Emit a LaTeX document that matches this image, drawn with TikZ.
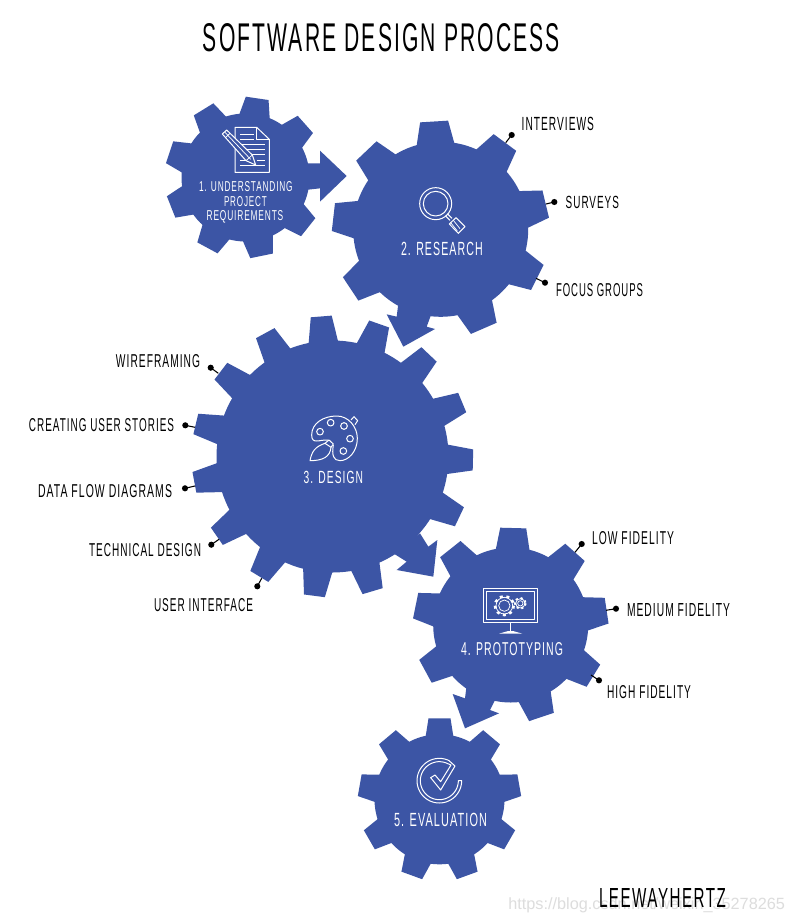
\documentclass[tikz,border=0pt]{standalone}
\usepackage{fontspec}
\usepackage{graphicx}
\setmainfont{Liberation Sans}
\newfontfamily\lsfont[LetterSpace=10]{Liberation Sans}
\definecolor{gearblue}{HTML}{3C55A5}
\definecolor{marklight}{HTML}{DDDDDD}
\tikzset{
  lab/.style={inner sep=0pt,outer sep=0pt,font=\lsfont},
  gearfill/.style={fill=gearblue,draw=none},
  icon/.style={draw=white,line width=.75pt,line join=round},
  thinicon/.style={draw=white,line width=.55pt,line join=round},
  leader/.style={draw=black,line width=.8pt},
  dotend/.style={circle,fill=black,inner sep=0pt,minimum size=4.6pt}
}
% name, x1, x2, y1, y2, colour, text
\newcommand\lbl[7]{%
  \pgfmathsetlengthmacro\lblw{(#3-#2)*0.75}%
  \pgfmathsetlengthmacro\lblh{(#5-#4)*0.75}%
  \node[lab,text=#6] (#1) at ({(#2+#3)/2},{(#4+#5)/2}) {\resizebox{\lblw}{\lblh}{\raisebox{0pt}[\height][0pt]{#7}}};%
}
% cx, cy, r, R, n, phase, tip width, base width, index of the tooth an arrow replaces
\newcommand\gear[9]{%
  \fill[gearfill] (#1,#2) circle (#3);
  \foreach \i in {1,...,#5}{%
    \ifnum\i=#9\relax\else
    \pgfmathsetmacro\a{#6+360*\i/#5}%
    \fill[gearfill]
      ({#1+(#3-3)*cos(\a)-(#8/2)*sin(\a)},{#2-(#3-3)*sin(\a)-(#8/2)*cos(\a)}) --
      ({#1+(#4)*cos(\a)-(#7/2)*sin(\a)},{#2-(#4)*sin(\a)-(#7/2)*cos(\a)}) --
      ({#1+(#4)*cos(\a)+(#7/2)*sin(\a)},{#2-(#4)*sin(\a)+(#7/2)*cos(\a)}) --
      ({#1+(#3-3)*cos(\a)+(#8/2)*sin(\a)},{#2-(#3-3)*sin(\a)+(#8/2)*cos(\a)}) -- cycle;
    \fi
  }%
}
% name, dot x, dot y, end x, end y
\newcommand\lead[5]{%
  \node[dotend] (#1) at (#2,#3) {};
  \coordinate (#1e) at (#4,#5);
  \draw[leader] (#1.center) -- (#1e);
}
\begin{document}
\begin{tikzpicture}[x=.75pt,y=-.75pt]
\useasboundingbox (0,0) rectangle (789,924);
\fill[white] (0,0) rectangle (789,924);

% gears
\gear{245.5}{177.5}{64}{80}{9}{1.6}{23}{31}{9}
\gear{440.7}{229.3}{87.5}{108}{9}{13.5}{28}{38}{6}
\gear{332.5}{456.5}{116}{140.5}{15}{-1.4}{21}{30}{13}
\gear{510.7}{625}{77.5}{97}{9}{8.5}{26}{34}{6}
\gear{439.5}{799.3}{65}{81}{9}{10}{22}{28}{0}

% arrows
\begin{scope}[shift={(150,80)},x=.25pt,y=-.25pt]
  \fill[gearfill] (470,250) -- (510,250) -- (510,212) -- (590,288) -- (510,365) -- (510,325) -- (465,330) -- cycle;
\end{scope}
\begin{scope}[shift={(330,100)},x=.25pt,y=-.25pt]
  \fill[gearfill] (205,610) -- (200,650) -- (170,643) -- (220,740) -- (315,687) -- (290,680) -- (303,645) -- cycle;
\end{scope}
\begin{scope}[shift={(180,310)},x=.25pt,y=-.25pt]
  \fill[gearfill] (720,670) -- (745,710) -- (772,690) -- (760,800) -- (650,780) -- (680,755) -- (640,730) -- cycle;
\end{scope}
\begin{scope}[shift={(400,520)},x=.25pt,y=-.25pt]
  \fill[gearfill] (200,495) -- (195,535) -- (158,522) -- (195,625) -- (297,580) -- (270,570) -- (285,540) -- cycle;
\end{scope}

% icon 1: document and pencil
\begin{scope}[shift={(150,80)},x=.25pt,y=-.25pt]
  \draw[icon] (255,142) -- (320,142) -- (358,178) -- (358,277) -- (255,277) -- cycle;
  \draw[icon] (320,142) -- (320,178) -- (358,178);
  \draw[thinicon] (270,163) -- (312,163) (270,178) -- (312,178) (275,193) -- (345,193)
     (290,208) -- (345,208) (300,223) -- (345,223) (270,240) -- (295,240) (320,240) -- (345,240)
     (270,255) -- (345,255);
  \fill[gearfill] (217,162) -- (230,150) -- (307,225) -- (317,255) -- (288,242) -- cycle;
  \draw[icon] (217,162) -- (230,150) -- (307,225) -- (317,255) -- (288,242) -- cycle;
  \draw[thinicon] (227,172) -- (240,160) (224,156) -- (302,238) (288,242) -- (307,225);
\end{scope}

% icon 2: magnifier
\begin{scope}[shift={(330,100)},x=.25pt,y=-.25pt]
  \draw[icon] (317,311) circle (48);
  \draw[icon] (317,311) circle (37);
  \draw[icon] (346,347) -- (360,361) (352,341) -- (366,355);
  \draw[icon] (378,353) -- (405,380) -- (385,400) -- (358,372) -- cycle;
  \draw[thinicon] (370,361) -- (390,386) (362,368) -- (382,393);
\end{scope}

% icon 3: palette and brush
\begin{scope}[shift={(270,390)},x=.25pt,y=-.25pt]
  \draw[icon] (175,150) .. controls (150,148) and (125,165) .. (125,135)
     .. controls (125,100) and (160,78) .. (200,78)
     .. controls (235,78) and (262,110) .. (262,145)
     .. controls (262,185) and (235,212) .. (210,212)
     .. controls (190,212) and (185,195) .. (190,165);
  \draw[icon] (243,90) -- (252,80) -- (263,92) -- (255,104);
  \draw[icon] (182,98) circle (10) (222,108) circle (10) (150,125) circle (10) (240,146) circle (10) (220,183) circle (10);
  \draw[icon] (120,212) .. controls (125,185) and (135,170) .. (165,160)
     .. controls (172,165) and (178,168) .. (183,172)
     .. controls (180,200) and (160,212) .. (120,212) -- cycle;
  \draw[icon] (165,160) -- (177,150) -- (190,162) -- (183,172);
\end{scope}

% icon 4: monitor with gears
\begin{scope}[shift={(400,520)},x=.25pt,y=-.25pt]
  \draw[icon] (250,205) rectangle (412,308);
  \draw[icon] (260,215) rectangle (402,298);
  \draw[icon] (332,308) -- (332,334);
  \fill[white] (297,341) -- (325,333) -- (339,333) -- (367,341) -- cycle;
  \draw[thinicon] (313,257) circle (25) (313,257) circle (17);
  \draw[thinicon,line width=2pt,dash pattern=on 2.2pt off 2.7pt] (313,257) circle (28);
  \draw[thinicon] (361,250) circle (14) (361,250) circle (8);
  \draw[thinicon,line width=1.6pt,dash pattern=on 1.7pt off 2pt] (361,250) circle (16);
\end{scope}

% icon 5: check mark
\begin{scope}[shift={(350,710)},x=.25pt,y=-.25pt]
  \draw[icon] (335,212) -- plot[domain=0:-295,samples=50] ({268+67*cos(\x)},{212-67*sin(\x)}) -- (315,168)
     -- (272,240) -- (242,203) -- (255,195) -- (272,215) -- (303,165)
     -- plot[domain=65:360,samples=50] ({268+57*cos(\x)},{212-57*sin(\x)}) -- cycle;
\end{scope}

% title and labels
\node[inner sep=0pt,text=marklight,font=\fontsize{12.2pt}{14pt}\selectfont,anchor=west] (mark) at (508,905) {https://blog.csdn.net/weixin\_35278265};
\lbl{title}{203}{560}{24}{52}{black}{SOFTWARE DESIGN PROCESS}
\lbl{l1a}{199}{292.7}{181.7}{191.7}{white}{1. UNDERSTANDING}
\lbl{l1b}{224}{266.7}{196}{206}{white}{PROJECT}
\lbl{l1c}{206.7}{283.3}{210.7}{220.7}{white}{REQUIREMENTS}
\lbl{l2}{401}{482.7}{241.7}{255}{white}{2. RESEARCH}
\lbl{l3}{303.7}{363}{471}{483.3}{white}{3. DESIGN}
\lbl{l4}{461}{563}{642}{655}{white}{4. PROTOTYPING}
\lbl{l5}{394}{487}{812.7}{826}{white}{5. EVALUATION}
\lbl{interviews}{521.7}{594}{116.7}{130}{black}{INTERVIEWS}
\lbl{surveys}{565.7}{619}{195.7}{208}{black}{SURVEYS}
\lbl{focus}{556}{643}{283}{296}{black}{FOCUS GROUPS}
\lbl{wire}{116}{200}{354}{367}{black}{WIREFRAMING}
\lbl{stories}{29}{174}{418}{431}{black}{CREATING USER STORIES}
\lbl{flow}{38}{172}{484}{497}{black}{DATA FLOW DIAGRAMS}
\lbl{tech}{89}{201}{543}{556}{black}{TECHNICAL DESIGN}
\lbl{ui}{154}{253}{598}{611}{black}{USER INTERFACE}
\lbl{low}{592}{674}{531}{544}{black}{LOW FIDELITY}
\lbl{medium}{627}{730}{603}{616}{black}{MEDIUM FIDELITY}
\lbl{high}{607}{691}{685}{698}{black}{HIGH FIDELITY}
\lbl{brand}{599}{726}{888}{907}{black}{LEEWAYHERTZ}

% leaders
\lead{dinterviews}{511.7}{135}{505.7}{142.7}
\lead{dsurveys}{554.3}{202}{546}{204}
\lead{dfocus}{545}{282.7}{536}{278.3}
\lead{dwire}{210.7}{367.7}{218.3}{373.3}
\lead{dstories}{185.3}{425.3}{195}{427.3}
\lead{dflow}{185}{488.3}{195}{486}
\lead{dtech}{211.3}{544.7}{219}{539.3}
\lead{dui}{257.3}{586.3}{261.7}{578.3}
\lead{dlow}{581.7}{544}{575}{552.3}
\lead{dmedium}{616}{608.7}{606}{610.3}
\lead{dhigh}{599}{680.3}{591}{675}
\end{tikzpicture}
\end{document}
